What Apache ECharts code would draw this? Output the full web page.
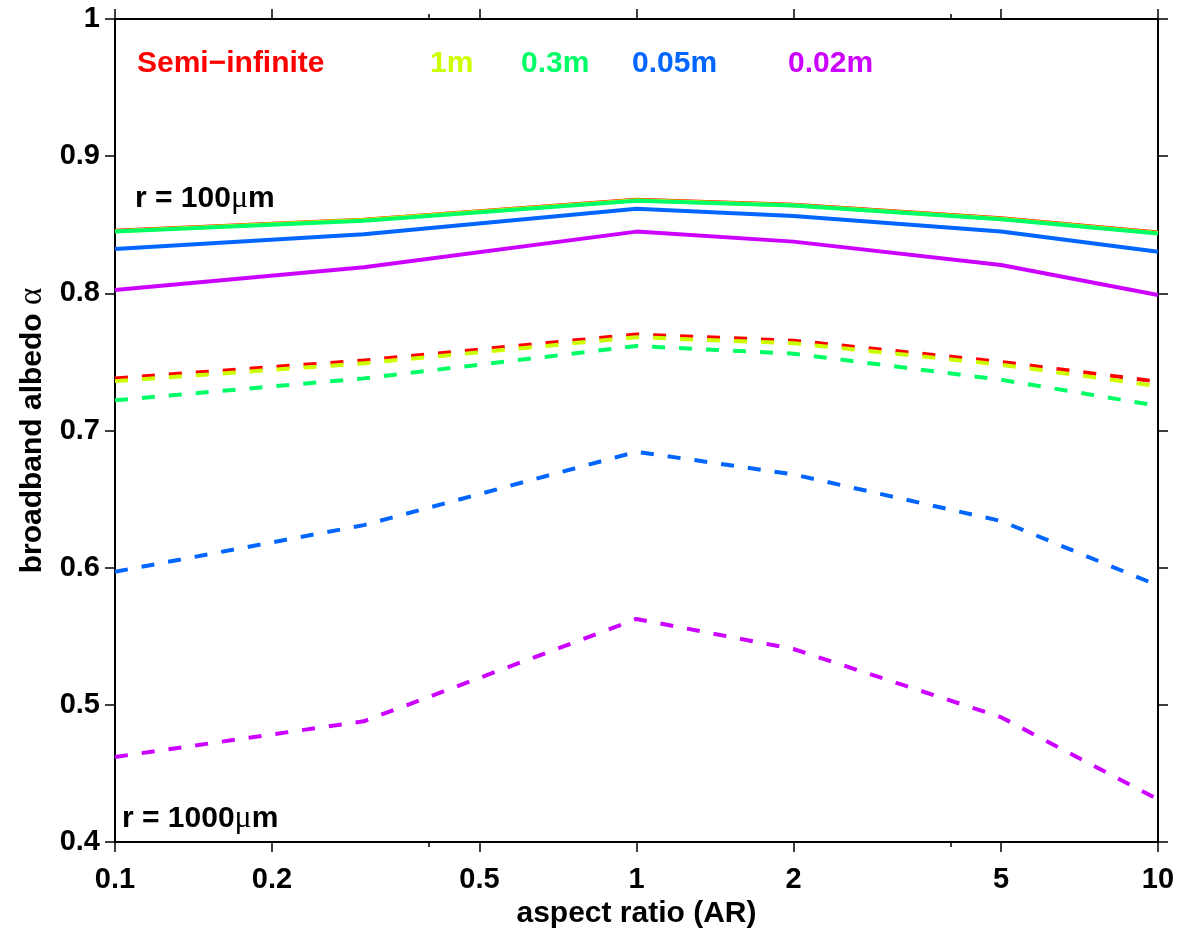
<!DOCTYPE html>
<html>
<head>
<meta charset="utf-8">
<script src="https://cdn.jsdelivr.net/npm/echarts@6/dist/echarts.min.js"></script>
<style>
  html, body { margin: 0; padding: 0; background: #fff; }
  #chart { width: 1187px; height: 934px; }
</style>
</head>
<body>
<div id="chart"></div>
<script>
// Aspect ratios at which albedo was computed
const aspectRatios = [0.1, 0.3, 1, 2, 5, 10];

// Axis ticks
const xMajorTicks = [0.1, 0.2, 0.5, 1, 2, 5, 10];
const xMinorTicks = [0.4, 4];

// Snow depth labels and colours
const depthNames = ['Semi\u2212infinite', '1m', '0.3m', '0.05m', '0.02m'];
const depthColors = ['#ff0000', '#ccff00', '#00ff66', '#0066ff', '#cc00ff'];

// Broadband albedo, grain radius r = 100 µm (solid lines)
const r100SemiInf = [0.8456, 0.8537, 0.8682, 0.8646, 0.8547, 0.8443];
const r100Depth1m = [0.8453, 0.8534, 0.8679, 0.8643, 0.8544, 0.8440];
const r100Depth03m = [0.845, 0.853, 0.8675, 0.864, 0.854, 0.8437];
const r100Depth005m = [0.8323, 0.843, 0.8617, 0.8564, 0.845, 0.8303];
const r100Depth002m = [0.8024, 0.819, 0.845, 0.8377, 0.8206, 0.7988];

// Broadband albedo, grain radius r = 1000 µm (dashed lines)
const r1000SemiInf = [0.738, 0.751, 0.770, 0.7655, 0.750, 0.7356];
const r1000Depth1m = [0.736, 0.749, 0.768, 0.7636, 0.748, 0.7324];
const r1000Depth03m = [0.722, 0.738, 0.7616, 0.756, 0.737, 0.718];
const r1000Depth005m = [0.597, 0.631, 0.6845, 0.668, 0.634, 0.587];
const r1000Depth002m = [0.462, 0.488, 0.5626, 0.5407, 0.491, 0.431];

const r100Sets = [r100SemiInf, r100Depth1m, r100Depth03m, r100Depth005m, r100Depth002m];
const r1000Sets = [r1000SemiInf, r1000Depth1m, r1000Depth03m, r1000Depth005m, r1000Depth002m];

const FONT = '"Liberation Sans", Arial, Helvetica, sans-serif';
const SERIF = '"Liberation Serif", "DejaVu Serif", serif';

const gridRect = { left: 115, right: 29, top: 19, bottom: 92 };

function xAxisDef(gridIndex, position, ticks, tickLen, withLabels) {
  return {
    type: 'log', logBase: 10, min: 0.1, max: 10,
    gridIndex: gridIndex, position: position,
    axisLine: { show: gridIndex === 0, lineStyle: { color: '#000', width: 2 } },
    axisTick: { show: true, inside: false, length: tickLen, customValues: ticks,
                lineStyle: { color: '#000', width: 1.5 } },
    axisLabel: withLabels ? {
      show: true, customValues: ticks, margin: 23,
      fontSize: 29, fontWeight: 'bold', color: '#000', fontFamily: FONT,
      formatter: v => String(+v.toPrecision(3))
    } : { show: false },
    splitLine: { show: false },
    minorTick: { show: false },
    name: withLabels ? 'aspect ratio (AR)' : '',
    nameLocation: 'middle', nameGap: 56,
    nameTextStyle: { fontSize: 30, fontWeight: 'bold', color: '#000', fontFamily: FONT }
  };
}

function yAxisDef(gridIndex, position, withLabels) {
  return {
    type: 'value', min: 0.4, max: 1, interval: 0.1,
    gridIndex: gridIndex, position: position,
    axisLine: { show: gridIndex === 0, lineStyle: { color: '#000', width: 2 } },
    axisTick: { show: gridIndex === 0, inside: false, length: 10,
                lineStyle: { color: '#000', width: 1.5 } },
    axisLabel: withLabels ? {
      show: true, margin: 15, fontSize: 29, fontWeight: 'bold', color: '#000', fontFamily: FONT,
      formatter: v => String(+v.toFixed(1))
    } : { show: false },
    splitLine: { show: false },
    name: withLabels ? '{t|broadband albedo }{g|\u03b1}' : '',
    nameLocation: 'middle', nameGap: 66, nameRotate: 90,
    nameTextStyle: {
      color: '#000',
      rich: {
        t: { fontSize: 30, fontWeight: 'bold', fontFamily: FONT, color: '#000' },
        g: { fontSize: 33, fontWeight: 'normal', fontFamily: SERIF, color: '#000' }
      }
    }
  };
}

const series = [];
r100Sets.forEach((vals, i) => {
  series.push({
    type: 'line', xAxisIndex: 0, yAxisIndex: 0,
    name: depthNames[i] + ' r100',
    data: aspectRatios.map((a, k) => [a, vals[k]]),
    showSymbol: false, symbol: 'none', silent: true,
    lineStyle: { color: depthColors[i], width: 4, type: 'solid' },
    z: 2 + i
  });
});
r1000Sets.forEach((vals, i) => {
  series.push({
    type: 'line', xAxisIndex: 0, yAxisIndex: 0,
    name: depthNames[i] + ' r1000',
    data: aspectRatios.map((a, k) => [a, vals[k]]),
    showSymbol: false, symbol: 'none', silent: true,
    lineStyle: { color: depthColors[i], width: 4, type: [13, 14] },
    z: 2 + i
  });
});

// In-plot legend text positions (left x of each label)
const legendX = [137, 430, 521, 632, 788];

const graphics = depthNames.map((name, i) => ({
  type: 'text', left: legendX[i], top: 49, silent: true,
  style: { text: name, fill: depthColors[i], font: 'bold 30px ' + FONT }
}));

function radiusLabel(num, left, top) {
  return {
    type: 'text', left: left, top: top, silent: true,
    style: {
      text: '{a|r = ' + num + '}{m|\u03bc}{a|m}',
      rich: {
        a: { fontSize: 30, fontWeight: 'bold', fontFamily: FONT, fill: '#000' },
        m: { fontSize: 32, fontWeight: 'normal', fontFamily: SERIF, fill: '#000' }
      }
    }
  };
}
graphics.push(radiusLabel('100', 135, 183));
graphics.push(radiusLabel('1000', 122, 803));

const option = {
  animation: false,
  backgroundColor: '#fff',
  grid: [
    Object.assign({ show: false }, gridRect),
    Object.assign({ show: false }, gridRect)
  ],
  xAxis: [
    xAxisDef(0, 'bottom', xMajorTicks, 10, true),
    xAxisDef(0, 'top', xMajorTicks, 10, false),
    xAxisDef(1, 'bottom', xMinorTicks, 5, false),
    xAxisDef(1, 'top', xMinorTicks, 5, false)
  ],
  yAxis: [
    yAxisDef(0, 'left', true),
    yAxisDef(0, 'right', false),
    yAxisDef(1, 'left', false)
  ],
  graphic: graphics,
  series: series
};

const chart = echarts.init(document.getElementById('chart'), null, { renderer: 'canvas' });
chart.setOption(option);
</script>
</body>
</html>
